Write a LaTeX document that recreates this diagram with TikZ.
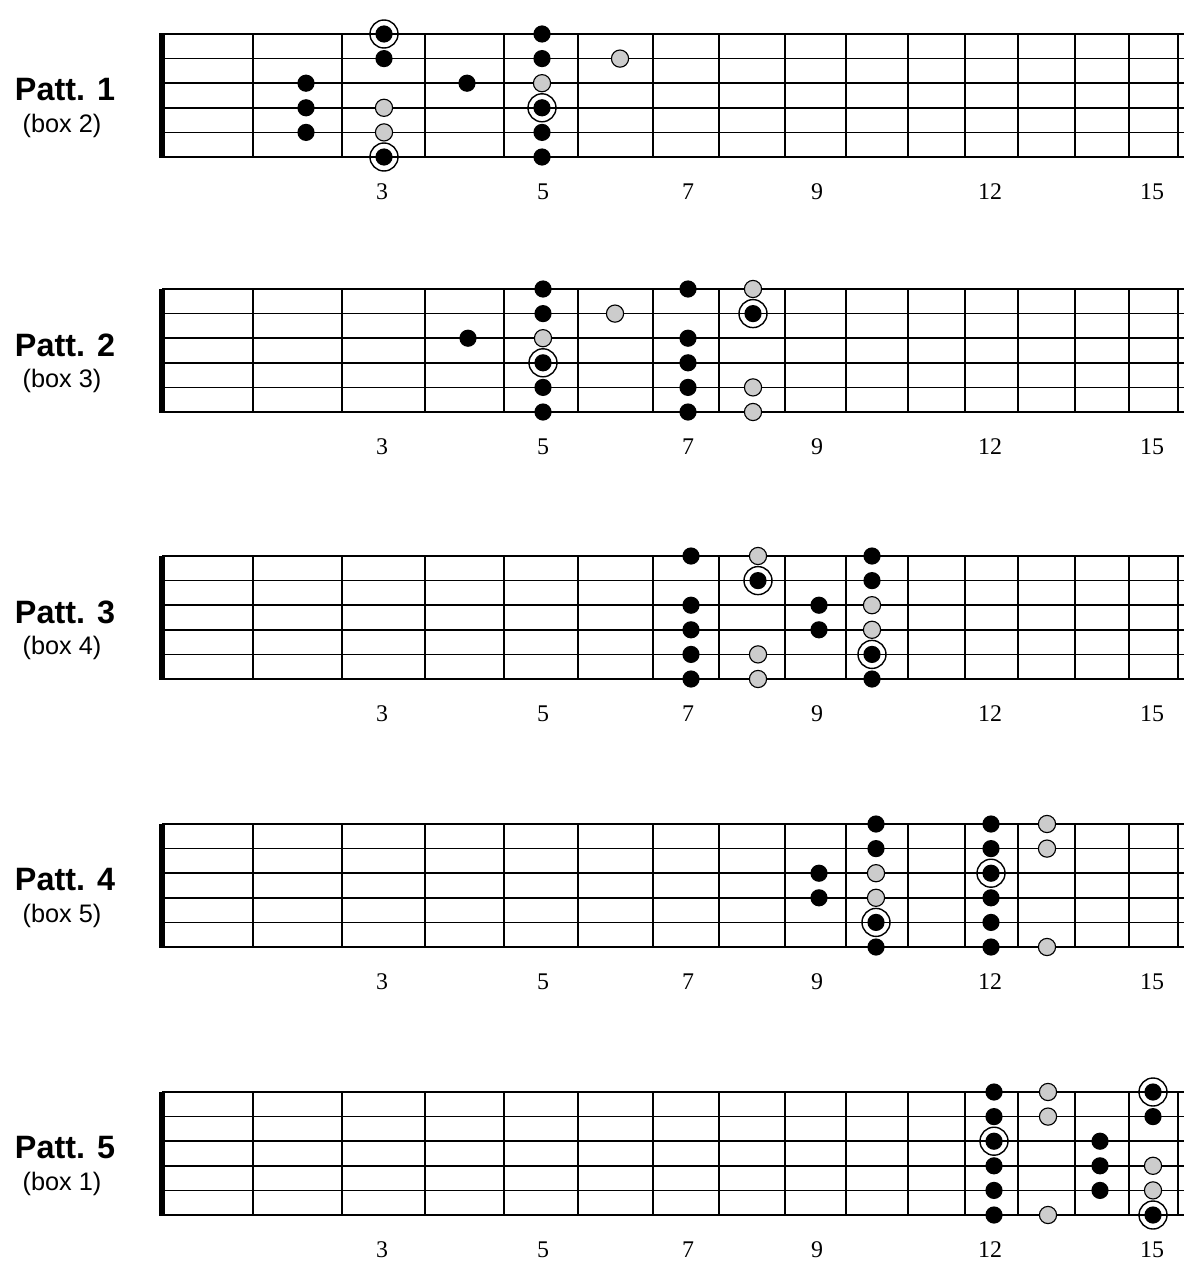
\documentclass[tikz,border=0pt]{standalone}
\usepackage{fontspec}
\setmainfont{Liberation Serif}
\setsansfont{Liberation Sans}
\begin{document}
\begin{tikzpicture}[x=0.025cm,y=-0.025cm,
  gstring/.style={line width=1.1pt},
  fretwire/.style={line width=1.4pt},
  nutbar/.style={line width=4.5pt},
  dot/.style={circle,fill=black,inner sep=0pt,minimum size=0.43cm},
  pale/.style={circle,draw,line width=0.8pt,fill=gray!40,inner sep=0pt,minimum size=0.43cm},
  root/.style={circle,draw,line width=1pt,inner sep=0pt,minimum size=0.7cm,
    path picture={\fill (path picture bounding box.center) circle (0.215cm);}},
  patt/.style={font=\sffamily\bfseries\fontsize{23}{27}\selectfont},
  boxno/.style={font=\sffamily\fontsize{18}{22}\selectfont},
  fretno/.style={font=\fontsize{17}{20}\selectfont}]
\useasboundingbox (0,0) rectangle (1199,1275);
% fretboards
\foreach \t/\b [count=\p] in {34/2,289/3,556/4,824/5,1092/1} {
  \foreach \r in {0,...,5}
    \draw[gstring] (162,\t+24.6*\r) -- (1184,\t+24.6*\r);
  \foreach \f in {253,342,425,504,578,653,719,785,846,908,965,1018,1075,1129,1178}
    \draw[fretwire] (\f,\t) -- (\f,\t+123);
  \draw[nutbar] (162,\t-0.5) -- (162,\t+123.5);
  \node[patt] (patt\p) at (65,\t+56) {Patt. \p};
  \node[boxno] (box\p) at (62,\t+92) {(box \b)};
  \foreach \n/\x in {3/382,5/543,7/688,9/817,12/990,15/1152}
    \node[fretno] (no\p-\n) at (\x,\t+158) {\n};
}
% pattern 1
\begin{scope}[shift={(0,34)}]
\foreach \x/\r [count=\i] in {306/2,306/3,306/4,384/1,467/2,542/0,542/1,542/4,542/5}
  \node[dot] (a\i) at (\x,24.6*\r) {};
\foreach \x/\r [count=\i] in {384/3,384/4,542/2,620/1}
  \node[pale] (ap\i) at (\x,24.6*\r) {};
\foreach \x/\r [count=\i] in {384/0,384/5,542/3}
  \node[root] (ar\i) at (\x,24.6*\r) {};
\end{scope}
% pattern 2
\begin{scope}[shift={(0,289)}]
\foreach \x/\r [count=\i] in {468/2,543/0,543/1,543/4,543/5,688/0,688/2,688/3,688/4,688/5}
  \node[dot] (b\i) at (\x,24.6*\r) {};
\foreach \x/\r [count=\i] in {543/2,615/1,753/0,753/4,753/5}
  \node[pale] (bp\i) at (\x,24.6*\r) {};
\foreach \x/\r [count=\i] in {543/3,753/1}
  \node[root] (br\i) at (\x,24.6*\r) {};
\end{scope}
% pattern 3
\begin{scope}[shift={(0,556)}]
\foreach \x/\r [count=\i] in {691/0,691/2,691/3,691/4,691/5,819/2,819/3,872/0,872/1,872/5}
  \node[dot] (c\i) at (\x,24.6*\r) {};
\foreach \x/\r [count=\i] in {758/0,758/4,758/5,872/2,872/3}
  \node[pale] (cp\i) at (\x,24.6*\r) {};
\foreach \x/\r [count=\i] in {758/1,872/4}
  \node[root] (cr\i) at (\x,24.6*\r) {};
\end{scope}
% pattern 4
\begin{scope}[shift={(0,824)}]
\foreach \x/\r [count=\i] in {819/2,819/3,876/0,876/1,876/5,991/0,991/1,991/3,991/4,991/5}
  \node[dot] (d\i) at (\x,24.6*\r) {};
\foreach \x/\r [count=\i] in {876/2,876/3,1047/0,1047/1,1047/5}
  \node[pale] (dp\i) at (\x,24.6*\r) {};
\foreach \x/\r [count=\i] in {876/4,991/2}
  \node[root] (dr\i) at (\x,24.6*\r) {};
\end{scope}
% pattern 5
\begin{scope}[shift={(0,1092)}]
\foreach \x/\r [count=\i] in {994/0,994/1,994/3,994/4,994/5,1100/2,1100/3,1100/4,1153/1}
  \node[dot] (e\i) at (\x,24.6*\r) {};
\foreach \x/\r [count=\i] in {1048/0,1048/1,1048/5,1153/3,1153/4}
  \node[pale] (ep\i) at (\x,24.6*\r) {};
\foreach \x/\r [count=\i] in {994/2,1153/0,1153/5}
  \node[root] (er\i) at (\x,24.6*\r) {};
\end{scope}
\end{tikzpicture}
\end{document}
